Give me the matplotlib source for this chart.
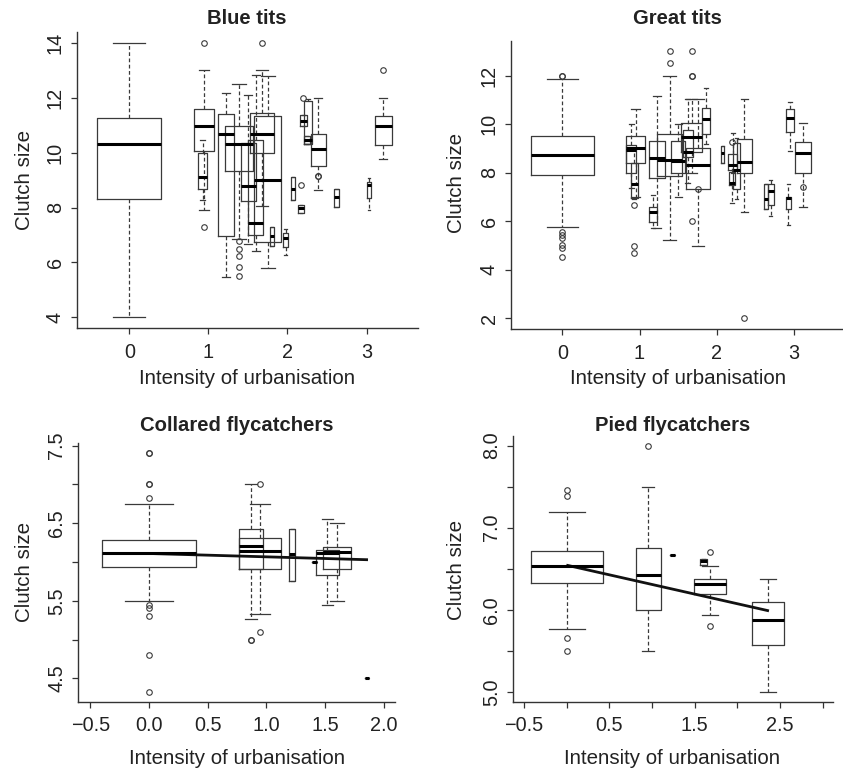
import matplotlib
matplotlib.use("Agg")
import matplotlib.pyplot as plt

plt.rcParams['font.family'] = ['Liberation Sans', 'DejaVu Sans']

# ---------------- Blue tits ----------------
bt_pos = [0, 0.944, 0.927, 1.224, 1.389, 1.504, 1.60, 1.679, 1.75, 1.80, 1.975, 2.07, 2.17, 2.20, 2.26, 2.245, 2.39, 2.62, 3.21, 3.03]
bt_wid = [0.81, 0.25, 0.11, 0.206, 0.358, 0.194, 0.19, 0.308, 0.345, 0.05, 0.06, 0.05, 0.067, 0.09, 0.09, 0.08, 0.198, 0.055, 0.21, 0.055]
bt_lo  = [4.0, 7.92, 8.26, 5.47, 6.85, 6.69, 6.43, 8.04, 5.81, 6.61, 6.28, 8.29, 7.80, 10.99, 10.30, 10.30, 8.63, 8.01, 9.77, 7.92]
bt_q1  = [8.31, 10.05, 8.69, 6.96, 9.32, 8.25, 7.01, 9.98, 6.76, 6.61, 6.58, 8.29, 7.80, 10.99, 10.30, 10.32, 9.51, 8.01, 10.27, 8.35]
bt_med = [10.30, 10.99, 9.10, 10.70, 10.33, 8.77, 7.45, 10.68, 8.99, 6.95, 6.89, 8.69, 7.98, 11.15, 10.45, 10.45, 10.14, 8.37, 10.99, 8.81]
bt_q3  = [11.25, 11.61, 9.98, 11.42, 10.97, 10.36, 10.48, 11.46, 11.33, 7.29, 7.07, 9.10, 8.10, 11.36, 11.90, 10.60, 10.69, 8.69, 11.33, 8.92]
bt_hi  = [14.0, 13.0, 10.48, 12.17, 12.50, 12.10, 12.83, 13.0, 12.79, 7.29, 7.22, 9.10, 8.10, 11.36, 11.95, 10.60, 11.99, 8.69, 11.99, 9.08]
bt_fl  = [[], [14, 7.31], [], [], [6.80, 6.49, 6.22, 5.85, 5.51], [], [], [14], [], [], [], [], [8.81], [11.99], [], [], [9.16, 9.16], [], [13.0], []]

# ---------------- Great tits ----------------
gt_pos = [0, 0.89, 0.95, 0.93, 1.171, 1.225, 1.39, 1.505, 1.626, 1.675, 1.758, 1.86, 2.08, 2.21, 2.20, 2.26, 2.36, 2.64, 2.70, 2.95, 2.93, 3.12]
gt_wid = [0.81, 0.13, 0.25, 0.09, 0.108, 0.2, 0.33, 0.182, 0.134, 0.268, 0.307, 0.1, 0.04, 0.117, 0.078, 0.087, 0.195, 0.056, 0.078, 0.1, 0.065, 0.212]
gt_lo  = [5.75, 7.36, 7.0, 6.9, 5.74, 5.71, 5.23, 7.01, 7.56, 8.0, 5.0, 9.2, 8.41, 8.0, 6.74, 6.9, 6.37, 6.52, 6.22, 8.9, 5.85, 6.57]
gt_q1  = [7.92, 8.0, 8.41, 6.95, 5.98, 7.77, 7.85, 8.0, 8.66, 8.87, 7.33, 9.58, 8.41, 8.11, 7.49, 7.32, 8.0, 6.52, 6.67, 9.69, 6.51, 8.0]
gt_med = [8.73, 8.94, 9.02, 7.52, 6.37, 8.59, 8.51, 8.48, 8.87, 9.49, 8.32, 10.21, 8.8, 8.32, 7.59, 8.11, 8.46, 6.92, 7.25, 10.24, 6.94, 8.80]
gt_q3  = [9.51, 9.14, 9.52, 8.39, 6.6, 9.32, 9.58, 9.32, 9.76, 10.04, 9.0, 10.65, 9.12, 8.76, 8.04, 9.21, 9.39, 7.52, 7.53, 10.63, 7.01, 9.28]
gt_hi  = [11.88, 10.0, 10.61, 9.0, 7.08, 11.16, 12.0, 10.0, 11.02, 11.02, 11.02, 11.5, 9.12, 9.62, 8.3, 9.42, 11.02, 7.52, 7.7, 10.9, 7.52, 10.04]
gt_fl  = [[12.0, 12.0, 5.54, 5.43, 5.33, 5.02, 4.88, 4.54], [], [], [6.67, 5.0, 4.68], [], [], [13.02, 12.51], [], [], [13.02, 12.0, 12.0, 6.0], [7.33], [], [], [], [9.28], [], [2.0], [], [], [], [], [7.40]]

# ---------------- Collared flycatchers ----------------
cf_pos = [0, 0.87, 0.947, 1.222, 1.41, 1.52, 1.605, 1.856]
cf_wid = [0.807, 0.2, 0.355, 0.051, 0.04, 0.196, 0.236, 0.035]
cf_lo  = [5.5, 5.26, 5.33, 5.76, 6.0, 5.44, 5.5, 4.5]
cf_q1  = [5.93, 5.91, 5.91, 5.76, 6.0, 5.83, 5.91, 4.5]
cf_med = [6.11, 6.21, 6.14, 6.10, 6.0, 6.12, 6.13, 4.5]
cf_q3  = [6.28, 6.42, 6.31, 6.42, 6.0, 6.15, 6.2, 4.5]
cf_hi  = [6.75, 7.0, 6.75, 6.42, 6.0, 6.56, 6.5, 4.5]
cf_fl  = [[7.40, 7.40, 7.0, 7.0, 6.83, 5.45, 5.41, 5.31, 4.80, 4.33], [5.0, 5.0], [7.0, 5.1], [], [], [], [], []]
cf_line_x = [0.0, 1.855]
cf_line_y = [6.11, 6.03]

# ---------------- Pied flycatchers ----------------
pf_pos = [0, 0.955, 1.24, 1.605, 1.68, 2.36]
pf_wid = [0.84, 0.293, 0.05, 0.086, 0.383, 0.383]
pf_lo  = [5.76, 5.5, 6.67, 6.55, 5.94, 5.0]
pf_q1  = [6.32, 6.0, 6.67, 6.55, 6.19, 5.57]
pf_med = [6.53, 6.42, 6.67, 6.59, 6.31, 5.87]
pf_q3  = [6.72, 6.75, 6.67, 6.62, 6.38, 6.09]
pf_hi  = [7.19, 7.5, 6.67, 6.62, 6.53, 6.38]
pf_fl  = [[7.46, 7.38, 5.66, 5.5], [8.0], [], [], [6.70, 5.80], []]
pf_line_x = [0.012, 2.355]
pf_line_y = [6.54, 5.99]

W, H = 843, 772
fig = plt.figure(figsize=(W / 100, H / 100), dpi=100)

def add_ax(left, top, right, bottom):
    return fig.add_axes([left / W, 1 - bottom / H, (right - left) / W, (bottom - top) / H])

BOXC = '#3a3a3a'
TXT = '#222222'

def draw(ax, pos, wid, lo, q1, med, q3, hi, fl):
    stats = []
    for i in range(len(pos)):
        stats.append(dict(whislo=lo[i], q1=q1[i], med=med[i], q3=q3[i], whishi=hi[i], fliers=fl[i]))
    ax.bxp(stats, positions=pos, widths=wid, capwidths=[w * 0.5 for w in wid],
           manage_ticks=False, showfliers=True,
           boxprops=dict(color=BOXC, linewidth=0.9),
           whiskerprops=dict(color=BOXC, linewidth=0.9, linestyle=(0, (3, 2))),
           capprops=dict(color=BOXC, linewidth=0.9),
           medianprops=dict(color='black', linewidth=2.2, solid_capstyle='butt'),
           flierprops=dict(marker='o', markerfacecolor='none', markeredgecolor=BOXC,
                           markersize=4, markeredgewidth=0.8, linestyle='none'))

def style(ax, xlim, ylim, xt, xtl, yt, ytl):
    ax.set_xlim(*xlim)
    ax.set_ylim(*ylim)
    ax.set_xticks(xt)
    ax.set_xticklabels(xtl)
    ax.set_yticks(yt)
    ax.set_yticklabels(ytl, rotation=90, va='center')
    for s in ['top', 'right']:
        ax.spines[s].set_visible(False)
    for s in ['left', 'bottom']:
        ax.spines[s].set_color('#333333')
        ax.spines[s].set_linewidth(1.0)
    ax.tick_params(axis='both', direction='out', length=4.5, width=0.9, color='#333333',
                   labelsize=14.3, labelcolor=TXT)
    ax.tick_params(axis='x', pad=6)
    ax.tick_params(axis='y', pad=4)

def labels(title, tx, ty, xx, xy, yx, yy):
    fig.text(tx / W, 1 - ty / H, title, ha='center', va='center', fontsize=14.6, fontweight='bold', color=TXT)
    fig.text(xx / W, 1 - xy / H, 'Intensity of urbanisation', ha='center', va='center', fontsize=14.8, color=TXT)
    fig.text(yx / W, 1 - yy / H, 'Clutch size', ha='center', va='center', fontsize=14.8, rotation=90, color=TXT)

# Blue tits
ax1 = add_ax(76.7, 32, 418, 328.3)
draw(ax1, bt_pos, bt_wid, bt_lo, bt_q1, bt_med, bt_q3, bt_hi, bt_fl)
style(ax1, (-0.665, 3.65), (3.6, 14.4), [0, 1, 2, 3], ['0', '1', '2', '3'],
      [4, 6, 8, 10, 12, 14], ['4', '6', '8', '10', '12', '14'])
labels('Blue tits', 247, 19, 247, 378, 25, 180)

# Great tits
ax2 = add_ax(510.7, 40.7, 843, 329)
draw(ax2, gt_pos, gt_wid, gt_lo, gt_q1, gt_med, gt_q3, gt_hi, gt_fl)
style(ax2, (-0.671, 3.64), (1.56, 13.44), [0, 1, 2, 3], ['0', '1', '2', '3'],
      [2, 4, 6, 8, 10, 12], ['2', '4', '6', '8', '10', '12'])
labels('Great tits', 677.7, 19, 677.7, 378, 456.7, 183)

# Collared flycatchers
ax3 = add_ax(78.3, 443.3, 395, 701.7)
draw(ax3, cf_pos, cf_wid, cf_lo, cf_q1, cf_med, cf_q3, cf_hi, cf_fl)
ax3.plot(cf_line_x, cf_line_y, color='#111111', linewidth=2.0)
style(ax3, (-0.602, 2.097), (4.2, 7.53), [-0.5, 0, 0.5, 1.0, 1.5, 2.0],
      ['\u22120.5', '0.0', '0.5', '1.0', '1.5', '2.0'],
      [4.5, 5.0, 5.5, 6.0, 6.5, 7.0, 7.5], ['4.5', '', '5.5', '', '6.5', '', '7.5'])
labels('Collared flycatchers', 236.7, 426, 236.7, 758.3, 25, 571.7)

# Pied flycatchers
ax4 = add_ax(512.7, 435.7, 833.3, 701.7)
draw(ax4, pf_pos, pf_wid, pf_lo, pf_q1, pf_med, pf_q3, pf_hi, pf_fl)
ax4.plot(pf_line_x, pf_line_y, color='#111111', linewidth=2.0)
style(ax4, (-0.633, 3.125), (4.88, 8.12), [-0.5, 0, 0.5, 1.0, 1.5, 2.0, 2.5, 3.0],
      ['\u22120.5', '', '0.5', '', '1.5', '', '2.5', ''],
      [5.0, 5.5, 6.0, 6.5, 7.0, 7.5, 8.0], ['5.0', '', '6.0', '', '7.0', '', '8.0'])
labels('Pied flycatchers', 672.3, 426, 672.3, 758.3, 456.7, 570)

fig.savefig('out.png', dpi=100)
